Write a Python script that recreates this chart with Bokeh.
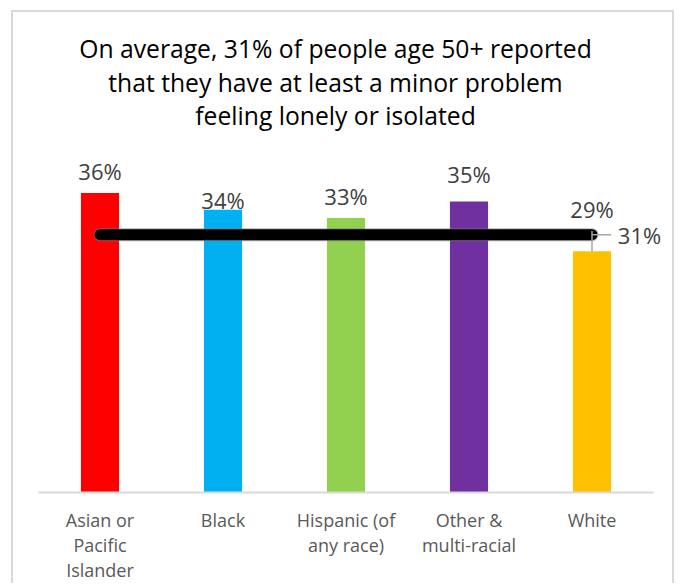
from bokeh.plotting import figure
from bokeh.models import ColumnDataSource, FixedTicker, Range1d, Label
from bokeh.core.properties import value
from bokeh.embed import file_html
from bokeh.resources import INLINE

# ---- data ----
categories = ["Asian or\nPacific\nIslander", "Black", "Hispanic (of\nany race)",
              "Other &\nmulti-racial", "White"]
values = [36, 34, 33, 35, 29]
value_labels = ["36%", "34%", "33%", "35%", "29%"]
average = 31
average_label = "31%"
title_lines = ["On average, 31% of people age 50+ reported",
               "that they have at least a minor problem",
               "feeling lonely or isolated"]

# ---- styles ----
bar_colors = ["#FF0000", "#00B0F0", "#92D050", "#7030A0", "#FFC000"]
label_lift_px = [22, 10, 22, 27, 42]   # manual label placement above each bar top
FONT = "Open Sans"

xs = list(range(len(categories)))
src = ColumnDataSource(dict(x=xs, top=values, color=bar_colors,
                            lab=value_labels, lift=[-v for v in label_lift_px]))

p = figure(width=663, height=573, output_backend="svg", toolbar_location=None,
           x_range=Range1d(-0.5, 4.687),
           y_range=Range1d(0, 57.72),
           min_border_left=25, min_border_right=0, min_border_top=0,
           min_border_bottom=92,
           styles={"border-top": "2px solid #D9D9D9",
                   "border-left": "2px solid #D9D9D9",
                   "border-right": "2px solid #D9D9D9",
                   "margin-left": "11px", "margin-top": "10px"})
p.title = None

# title lines (screen units relative to the plot frame)
for line, ty in zip(title_lines, [444, 410, 377]):
    p.add_layout(Label(x=297, y=ty, x_units="screen", y_units="screen",
                       text=line, text_align="center", text_baseline="alphabetic",
                       text_font=FONT, text_font_size="24.7px",
                       text_color="#000000"))

p.vbar(x="x", top="top", width=0.31, color="color", source=src, line_color=None)

# data labels
p.text(x="x", y="top", text="lab", source=src, y_offset="lift",
       text_align="center", text_baseline="middle",
       text_font=value(FONT), text_font_size="22px", text_color="#404040")

# average line
p.line(x=[xs[0], xs[-1]], y=[average, average], line_width=13,
       line_color="#7F7F7F", line_cap="round", line_alpha=0.6)
p.line(x=[xs[0], xs[-1]], y=[average, average], line_width=11,
       line_color="#000000", line_cap="round")

# leader line and average label
p.segment(x0=[xs[-1], xs[-1]], y0=[average, average + 0.45],
          x1=[xs[-1] + 0.155, xs[-1]], y1=[average, values[-1]],
          line_color="#A6A6A6", line_width=1.5)
p.text(x=[xs[-1] + 0.21], y=[average], text=[average_label],
       text_align="left", text_baseline="middle",
       text_font=value(FONT), text_font_size="22px", text_color="#404040")

# axes
p.yaxis.visible = False
p.xgrid.visible = False
p.ygrid.visible = False
p.outline_line_color = None
ax = p.xaxis[0]
ax.bounds = (-0.5, 4.5)
ax.ticker = FixedTicker(ticks=xs)
ax.major_label_overrides = {i: c for i, c in zip(xs, categories)}
ax.major_tick_line_color = None
ax.minor_tick_line_color = None
ax.axis_line_color = "#D9D9D9"
ax.axis_line_width = 2
ax.major_label_text_font = FONT
ax.major_label_text_font_size = "18px"
ax.major_label_text_color = "#595959"
ax.major_label_standoff = 9
ax.major_label_text_line_height = 1.06

open("out.html", "w").write(file_html(p, INLINE))
